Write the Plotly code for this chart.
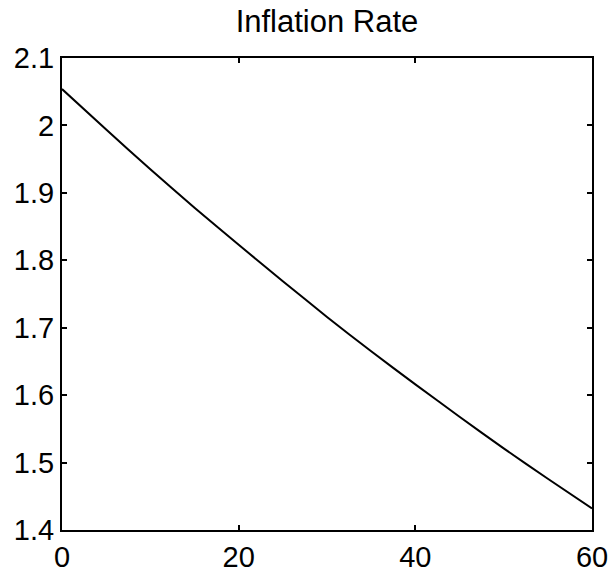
import plotly.graph_objects as go

# Data
horizon = [0, 5, 10, 15, 20, 25, 30, 35, 40, 45, 50, 55, 60]
inflation = [2.054, 1.994, 1.935, 1.878, 1.823, 1.769, 1.716, 1.665, 1.616, 1.568, 1.521, 1.476, 1.432]

x_ticks = [0, 20, 40, 60]
y_ticks = [1.4, 1.5, 1.6, 1.7, 1.8, 1.9, 2.0, 2.1]
y_tick_text = ["1.4", "1.5", "1.6", "1.7", "1.8", "1.9", "2", "2.1"]

FONT = "Liberation Sans, Arial, Helvetica, sans-serif"

W, H = 612, 578

fig = go.Figure()
fig.add_trace(go.Scatter(
    x=horizon, y=inflation, mode="lines",
    line=dict(color="black", width=2, shape="spline", smoothing=0.6),
    showlegend=False, hoverinfo="skip",
))

axis_common = dict(
    showline=True, linecolor="black", linewidth=2, mirror="ticks",
    ticks="inside", ticklen=5, tickwidth=1.5, tickcolor="black",
    showgrid=False, zeroline=False, automargin=False,
    tickfont=dict(family=FONT, size=29, color="black"),
)

fig.update_layout(
    width=W, height=H,
    margin=dict(l=62, r=20, t=58, b=48, autoexpand=False),
    paper_bgcolor="white", plot_bgcolor="white",
    title=dict(text="Inflation Rate", x=0.5, xref="paper", xanchor="center",
               y=1 - 21 / H, yref="container", yanchor="middle",
               font=dict(family=FONT, size=31, color="black")),
    xaxis=dict(range=[0, 60], tickvals=x_ticks, ticktext=[str(v) for v in x_ticks],
               **axis_common),
    yaxis=dict(range=[1.4, 2.1], tickvals=y_ticks, ticktext=y_tick_text,
               **axis_common),
)

# Remove the default page margin so the figure fills the window exactly.
fig.write_html(
    "out.html",
    config={"displayModeBar": False},
    post_script="document.body.style.margin='0';document.body.style.overflow='hidden';",
)
